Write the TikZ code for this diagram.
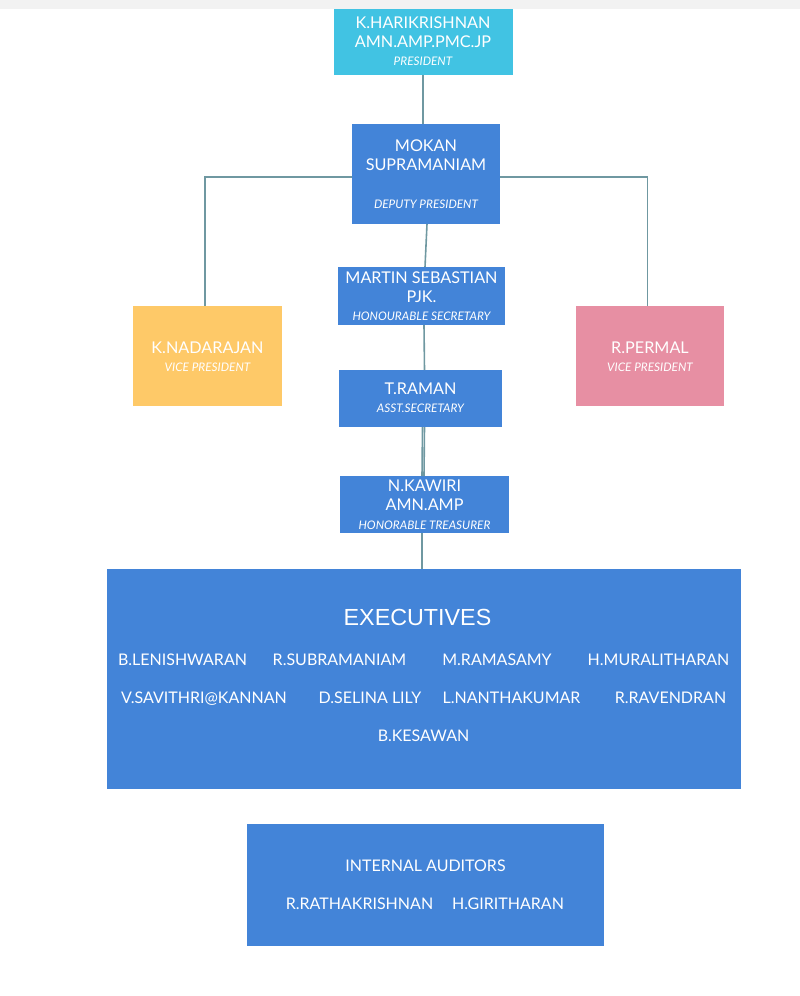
\documentclass[tikz,border=0pt]{standalone}
\usepackage{fontspec}
\setmainfont{Lato}
\newfontfamily\arialf{Liberation Sans}
\definecolor{cyanbox}{HTML}{41C3E3}
\definecolor{bluebox}{HTML}{4384D8}
\definecolor{yellowbox}{HTML}{FEC968}
\definecolor{pinkbox}{HTML}{E78FA3}
\definecolor{linec}{HTML}{6F98A1}
\definecolor{bandc}{HTML}{F2F2F2}
\tikzset{
  box/.style={anchor=north west,inner sep=0pt,outer sep=0pt},
  nm/.style={text=white,inner sep=0pt,font=\fontsize{16.2}{16.2}\selectfont,text height=11.7pt,text depth=0pt},
  role/.style={text=white,inner sep=0pt,font=\fontsize{11.8}{11.8}\selectfont\itshape,text height=8.5pt,text depth=0pt},
  exn/.style={text=white,inner sep=0pt,font=\fontsize{16}{16}\selectfont,text height=11.5pt,text depth=0pt},
  conn/.style={draw=linec,line width=1.6pt}
}
\begin{document}
\begin{tikzpicture}[x=1pt,y=-1pt]
\useasboundingbox (0,0) rectangle (800,996);
\fill[bandc] (0,0) rectangle (800,8.5);
% boxes
\node[box,fill=cyanbox,minimum width=179pt,minimum height=66pt] (pres) at (334,9) {};
\node[box,fill=bluebox,minimum width=148pt,minimum height=100pt] (dep) at (352,124) {};
\node[box,fill=bluebox,minimum width=167pt,minimum height=58pt] (mar) at (338,267) {};
\node[box,fill=bluebox,minimum width=163pt,minimum height=57pt] (ram) at (339,370) {};
\node[box,fill=bluebox,minimum width=169pt,minimum height=57pt] (kaw) at (340,476) {};
\node[box,fill=yellowbox,minimum width=149pt,minimum height=100pt] (nad) at (133,306) {};
\node[box,fill=pinkbox,minimum width=148pt,minimum height=100pt] (per) at (576,306) {};
\node[box,fill=bluebox,minimum width=634pt,minimum height=220pt] (exe) at (107,569) {};
\node[box,fill=bluebox,minimum width=357pt,minimum height=122pt] (aud) at (247,824) {};
% connectors
\draw[conn] ([xshift=-0.5pt]pres.south) -- ([xshift=-3pt]dep.north);
\draw[conn] ([yshift=-3pt]dep.west) -| ([xshift=-2.5pt]nad.north);
\draw[conn] ([yshift=-3pt]dep.east) -| ([xshift=-2.5pt]per.north);
\draw[conn] ([xshift=1pt]dep.south) -- ([xshift=3.5pt]mar.north);
\draw[conn] ([xshift=2.5pt]mar.south) -- ([xshift=4pt]ram.north);
\draw[conn] ([xshift=2pt]ram.south) -- ([xshift=-2.5pt]kaw.north);
\draw[conn] ([xshift=4pt]ram.south) -- ([xshift=-0.5pt]kaw.north);
\draw[conn] ([xshift=-2.5pt]kaw.south) -- ([xshift=-2pt]exe.north);
% texts
\node[nm] (p1) at (423,22.5) {K.HARIKRISHNAN};
\node[nm] (p2) at (423,41.7) {AMN.AMP.PMC.JP};
\node[role] (p3) at (423,61.5) {PRESIDENT};
\node[nm] (d1) at (426,146) {MOKAN};
\node[nm] (d2) at (426,165) {SUPRAMANIAM};
\node[role] (d3) at (426,204.3) {DEPUTY PRESIDENT};
\node[nm] (m1) at (421.5,278) {MARTIN SEBASTIAN};
\node[nm] (m2) at (421.5,297) {PJK.};
\node[role] (m3) at (421.5,316.5) {HONOURABLE SECRETARY};
\node[nm] (r1) at (420.5,388.7) {T.RAMAN};
\node[role] (r2) at (420.5,408.7) {ASST.SECRETARY};
\node[nm] (k1) at (424.5,486) {N.KAWIRI};
\node[nm] (k2) at (424.5,505) {AMN.AMP};
\node[role] (k3) at (424.5,525) {HONORABLE TREASURER};
\node[nm] (n1) at (207.5,348) {K.NADARAJAN};
\node[role] (n2) at (207.5,367.5) {VICE PRESIDENT};
\node[nm] (e1) at (650,348) {R.PERMAL};
\node[role] (e2) at (650,367.5) {VICE PRESIDENT};
\node[text=white,inner sep=0pt,font=\arialf\fontsize{23.3}{23.3}\selectfont,text height=16.7pt,text depth=0pt] (ex) at (417.5,617) {EXECUTIVES};
\node[exn] (x1) at (182.5,660) {B.LENISHWARAN};
\node[exn] (x2) at (339.5,660) {R.SUBRAMANIAM};
\node[exn] (x3) at (497,660) {M.RAMASAMY};
\node[exn] (x4) at (658.5,660) {H.MURALITHARAN};
\node[exn] (x5) at (204,698) {V.SAVITHRI@KANNAN};
\node[exn] (x6) at (370,698) {D.SELINA LILY};
\node[exn] (x7) at (511.5,698) {L.NANTHAKUMAR};
\node[exn] (x8) at (670.5,698) {R.RAVENDRAN};
\node[exn] (x9) at (423.5,736) {B.KESAWAN};
\node[exn] (a1) at (425.5,866) {INTERNAL AUDITORS};
\node[exn] (a2) at (359.5,904) {R.RATHAKRISHNAN};
\node[exn] (a3) at (508,904) {H.GIRITHARAN};
\end{tikzpicture}
\end{document}
